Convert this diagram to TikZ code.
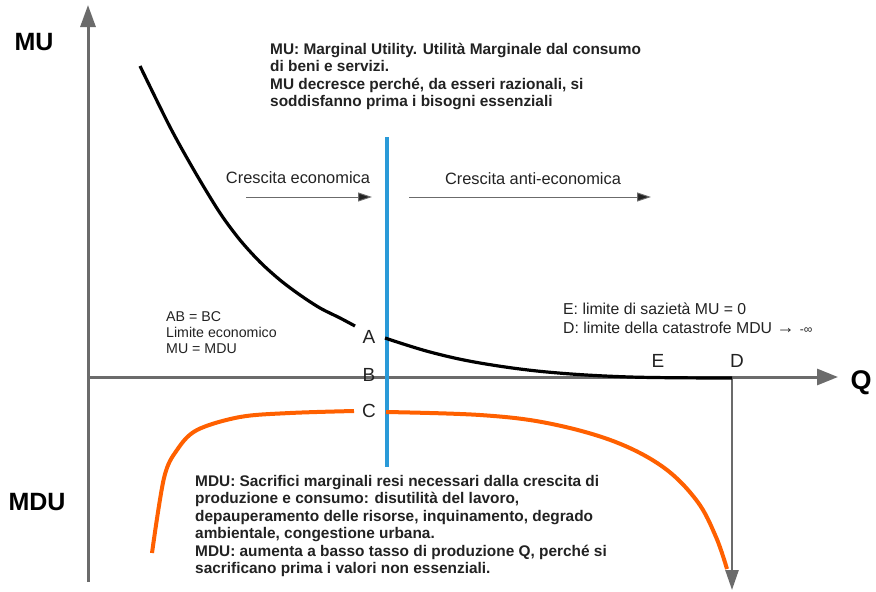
\documentclass[tikz,border=0pt]{standalone}
\usepackage{fontspec}
\setmainfont{Liberation Sans}
\usetikzlibrary{arrows.meta}
\definecolor{axisgray}{HTML}{6B6B6B}
\definecolor{mublue}{HTML}{2A9AD8}
\definecolor{mduorange}{HTML}{FF6000}
\definecolor{txtgray}{HTML}{222222}
\tikzset{
  axisline/.style={draw=axisgray, line width=3pt, -{Triangle[length=22pt,width=15pt]}},
  axislbl/.style={font=\fontsize{25}{25}\selectfont\bfseries, inner sep=0pt},
  ptlbl/.style={font=\fontsize{19}{19}\selectfont, inner sep=0pt, text=txtgray},
  boldblock/.style={font=\fontsize{15.4}{17.5}\selectfont\bfseries, align=left, inner sep=0pt, anchor=west, text=txtgray},
  plainblock/.style={font=\fontsize{14.2}{16}\selectfont, align=left, inner sep=0pt, anchor=west, text=txtgray},
  notetxt/.style={font=\fontsize{16.4}{19}\selectfont, align=left, inner sep=0pt, anchor=west, text=txtgray},
  growarrow/.style={draw=axisgray, line width=1pt, -{Triangle[length=14pt,width=9pt,fill=txtgray]}},
  mucurve/.style={draw=black, line width=3.2pt},
  mducurve/.style={draw=mduorange, line width=4pt},
}
\begin{document}
\begin{tikzpicture}[x=1pt,y=-1pt]
\useasboundingbox (0,0) rectangle (876,592);

% axes
\coordinate (vbot) at (88,582);
\coordinate (vtop) at (88,5);
\coordinate (hleft) at (88,377);
\coordinate (hright) at (838,377);
\coordinate (dtop) at (732,377);
\coordinate (dbot) at (732,590);
\draw[axisline] (vbot) -- (vtop);
\draw[axisline, -{Triangle[length=21pt,width=16pt]}] (hleft) -- (hright);
\draw[axisline, line width=2.6pt, -{Triangle[length=20pt,width=13pt]}] (dtop) -- (dbot);

% axis labels
\node[axislbl] (mu) at (34,42) {MU};
\node[axislbl] (mdu) at (37,502) {MDU};
\node[axislbl, font=\fontsize{27}{27}\selectfont\bfseries] (q) at (861,383) {Q};

% blue limit line
\coordinate (btop) at (387,137);
\coordinate (bbot) at (387,467);
\draw[draw=mublue, line width=3.2pt] (btop) -- (bbot);

% MU curve
\draw[mucurve] plot[smooth, tension=0.5] coordinates {(140,66) (170,127) (195,172) (220,213) (240,240) (260,262) (280,280) (300,295) (320,308) (340,318) (355,326)};
\draw[mucurve] plot[smooth, tension=0.6] coordinates {(385,338) (430,352) (480,363) (547,372) (630,377) (732,378)};

% MDU curve
\draw[mducurve] plot[smooth, tension=0.55] coordinates {(152,553) (164,478) (177,450) (197,430) (240,417) (290,413) (354,411)};
\draw[mducurve] plot[smooth, tension=0.6] coordinates {(386,412) (480,415) (547,423) (613,441) (663,467) (697,501) (716,537) (727,569)};

% point labels
\node[ptlbl] (A) at (369,337) {A};
\node[ptlbl] (B) at (369,375) {B};
\node[ptlbl] (C) at (369,411) {C};
\node[ptlbl] (E) at (658,361) {E};
\node[ptlbl] (D) at (737,361) {D};

% growth labels and arrows
\node[notetxt, anchor=center] (ce) at (298,178) {Crescita economica};
\node[notetxt, anchor=center] (cae) at (533,179) {Crescita anti-economica};
\coordinate (ce1) at (246,197);
\coordinate (ce2) at (372,197);
\coordinate (cae1) at (409,197);
\coordinate (cae2) at (651,197);
\draw[growarrow] (ce1) -- (ce2);
\draw[growarrow] (cae1) -- (cae2);

% text blocks
\node[boldblock] (topnote) at (270,76.5) {MU: Marginal Utility. Utilità Marginale dal consumo\\di beni e servizi.\\MU decresce perché, da esseri razionali, si\\soddisfanno prima i bisogni essenziali};

\node[plainblock] (abbc) at (166,333) {AB = BC\\Limite economico\\MU = MDU};

\node[notetxt, font=\fontsize{15.8}{19}\selectfont] (ednote) at (563,318) {E: limite di sazietà MU = 0\\D: limite della catastrofe MDU {\fontsize{18}{18}\selectfont →}\,\,{\fontsize{12}{12}\selectfont -∞}};

\node[boldblock] (mdunote) at (195,526) {MDU: Sacrifici marginali resi necessari dalla crescita di\\produzione e consumo: disutilità del lavoro,\\depauperamento delle risorse, inquinamento, degrado\\ambientale, congestione urbana.\\MDU: aumenta a basso tasso di produzione Q, perché si\\sacrificano prima i valori non essenziali.};
\end{tikzpicture}
\end{document}
